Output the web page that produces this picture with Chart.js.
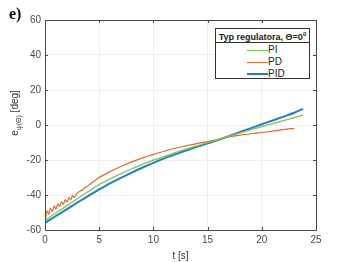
<!DOCTYPE html>
<html>
<head>
<meta charset="utf-8">
<script src="https://cdn.jsdelivr.net/npm/chart.js@4.4.1/dist/chart.umd.min.js"></script>
<style>
  html, body { margin: 0; padding: 0; background: #fff; }
  #wrap { position: relative; width: 349px; height: 262px; font-family: "Liberation Sans", Arial, sans-serif; }
  #tag { position: absolute; left: 9px; top: 5px; font: bold 16px "Liberation Serif", "Times New Roman", serif; color: #111; }
  #ytitle { position: absolute; left: 15px; top: 113px; transform: translate(-50%, -50%) rotate(-90deg);
            white-space: nowrap; font-size: 10px; color: #333; }
  #ytitle sub { font-size: 7px; }
  #legend { position: absolute; left: 215px; top: 28px; width: 95px; height: 51px; border: 1px solid #333;
            background: #fff; font-size: 10px; color: #222; box-sizing: border-box; }
  #legend .ttl { font-weight: bold; font-size: 9px; text-align: center; padding-top: 2px; height: 11px; border-bottom: 1px solid #333; white-space: nowrap; }
  #legend .ttl sup { font-size: 6px; }
  #legend .row { position: relative; height: 12px; }
  #legend .row i { position: absolute; left: 31px; top: 7px; width: 21px; }
  #legend .row span { position: absolute; left: 52px; top: 1px; }
</style>
</head>
<body>
<div id="wrap">
  <canvas id="c" width="349" height="262"></canvas>
  <div id="tag">e)</div>
  <div id="ytitle">e<sub>ψ(Θ)</sub> [deg]</div>
  <div id="legend">
    <div class="ttl">Typ regulatora, Θ=0<sup>0</sup></div>
    <div class="row"><i style="border-top:1px solid #7cc35a"></i><span>PI</span></div>
    <div class="row"><i style="border-top:1px solid #e3672f"></i><span>PD</span></div>
    <div class="row"><i style="border-top:2px solid #1f7fc4;top:6px"></i><span>PID</span></div>
  </div>
</div>
<script>
// time axis and series values
const tSmooth = [0, 1, 2, 3, 4, 5, 6, 7, 8, 9, 10, 11, 12, 13, 14, 15, 16, 17, 18, 19, 20, 21, 22, 23, 23.8];
const piVals  = [-54.5, -50.3, -46.2, -42, -38, -34, -30.8, -27.8, -25, -22.5, -20.1, -17.9, -15.8, -13.8, -11.9, -10.1, -8.2, -6.3, -4.5, -2.7, -0.9, 0.8, 2.5, 4.2, 5.7];
const pidVals = [-56, -52, -48.2, -44.3, -40.5, -36.8, -33.3, -30.2, -27.2, -24.3, -21.6, -19.1, -16.8, -14.6, -12.5, -10.5, -8.5, -6.3, -4, -1.8, 0.4, 2.6, 4.8, 7, 9.2];
const tPD     = [0, 0.2, 0.35, 0.5, 0.68, 0.85, 1.02, 1.18, 1.35, 1.52, 1.7, 1.86, 2.03, 2.2, 2.37, 2.54, 2.7, 2.9, 3.5, 4, 5, 6, 7, 8, 9, 10, 11, 12, 13, 14, 15, 16, 17, 18, 19, 20, 21, 22, 23];
const pdVals  = [-55, -49, -51, -47.5, -49.5, -46.2, -48, -45, -46.6, -43.8, -45.3, -42.6, -44, -41.5, -42.7, -40.4, -41.4, -39.4, -36.8, -34.5, -30, -26.6, -23.7, -21.1, -18.8, -16.8, -15, -13.3, -11.9, -10.6, -9.5, -8.2, -6.8, -5.8, -5, -4.3, -3.5, -2.6, -1.9];
const xTicks = [0, 5, 10, 15, 20, 25];
const yTicks = [-60, -40, -20, 0, 20, 40, 60];

const pts = (xs, ys) => xs.map((x, i) => ({ x, y: ys[i] }));

const AXIS = '#4a4a4a';
const GRID = '#eeeeee';

// box around plot + inward ticks, MATLAB style
const boxPlugin = {
  id: 'box',
  afterDatasetsDraw(chart) {
    const { ctx, chartArea: a, scales: { x, y } } = chart;
    ctx.save();
    ctx.strokeStyle = AXIS;
    ctx.lineWidth = 1;
    ctx.strokeRect(a.left + 0.5, a.top + 0.5, a.right - a.left, a.bottom - a.top);
    ctx.beginPath();
    xTicks.forEach(v => {
      const px = Math.round(x.getPixelForValue(v)) + 0.5;
      ctx.moveTo(px, a.bottom); ctx.lineTo(px, a.bottom - 3);
      ctx.moveTo(px, a.top); ctx.lineTo(px, a.top + 3);
    });
    yTicks.forEach(v => {
      const py = Math.round(y.getPixelForValue(v)) + 0.5;
      ctx.moveTo(a.left, py); ctx.lineTo(a.left + 3, py);
      ctx.moveTo(a.right, py); ctx.lineTo(a.right - 3, py);
    });
    ctx.stroke();
    ctx.restore();
  }
};

const line = (label, data, color, width) => ({
  label, data, borderColor: color, borderWidth: width, showLine: true,
  pointRadius: 0, cubicInterpolationMode: 'monotone'
});

new Chart(document.getElementById('c'), {
  type: 'scatter',
  data: {
    datasets: [
      line('PI',  pts(tSmooth, piVals),  '#7cc35a', 1.3),
      line('PD',  pts(tPD, pdVals),      '#e3672f', 1.2),
      line('PID', pts(tSmooth, pidVals), '#1f7fc4', 2),
    ]
  },
  options: {
    responsive: false,
    animation: false,
    layout: { padding: { top: 20, right: 33, left: 0, bottom: 0 } },
    plugins: { legend: { display: false }, tooltip: { enabled: false } },
    scales: {
      x: {
        type: 'linear', min: 0, max: 25,
        afterBuildTicks: s => { s.ticks = xTicks.map(v => ({ value: v })); },
        afterFit: s => { s.height = 32; },
        grid: { color: GRID, drawTicks: false },
        border: { display: false },
        ticks: { color: AXIS, font: { size: 10, family: 'Liberation Sans' }, padding: 4 },
        title: { display: true, text: 't [s]', color: '#333', font: { size: 10, family: 'Liberation Sans' }, padding: { top: 0, bottom: 0 } }
      },
      y: {
        min: -60, max: 60,
        afterBuildTicks: s => { s.ticks = yTicks.map(v => ({ value: v })); },
        afterFit: s => { s.width = 45; },
        grid: { color: GRID, drawTicks: false },
        border: { display: false },
        ticks: { color: AXIS, font: { size: 10, family: 'Liberation Sans' }, padding: 4 }
      }
    }
  },
  plugins: [boxPlugin]
});
</script>
</body>
</html>
